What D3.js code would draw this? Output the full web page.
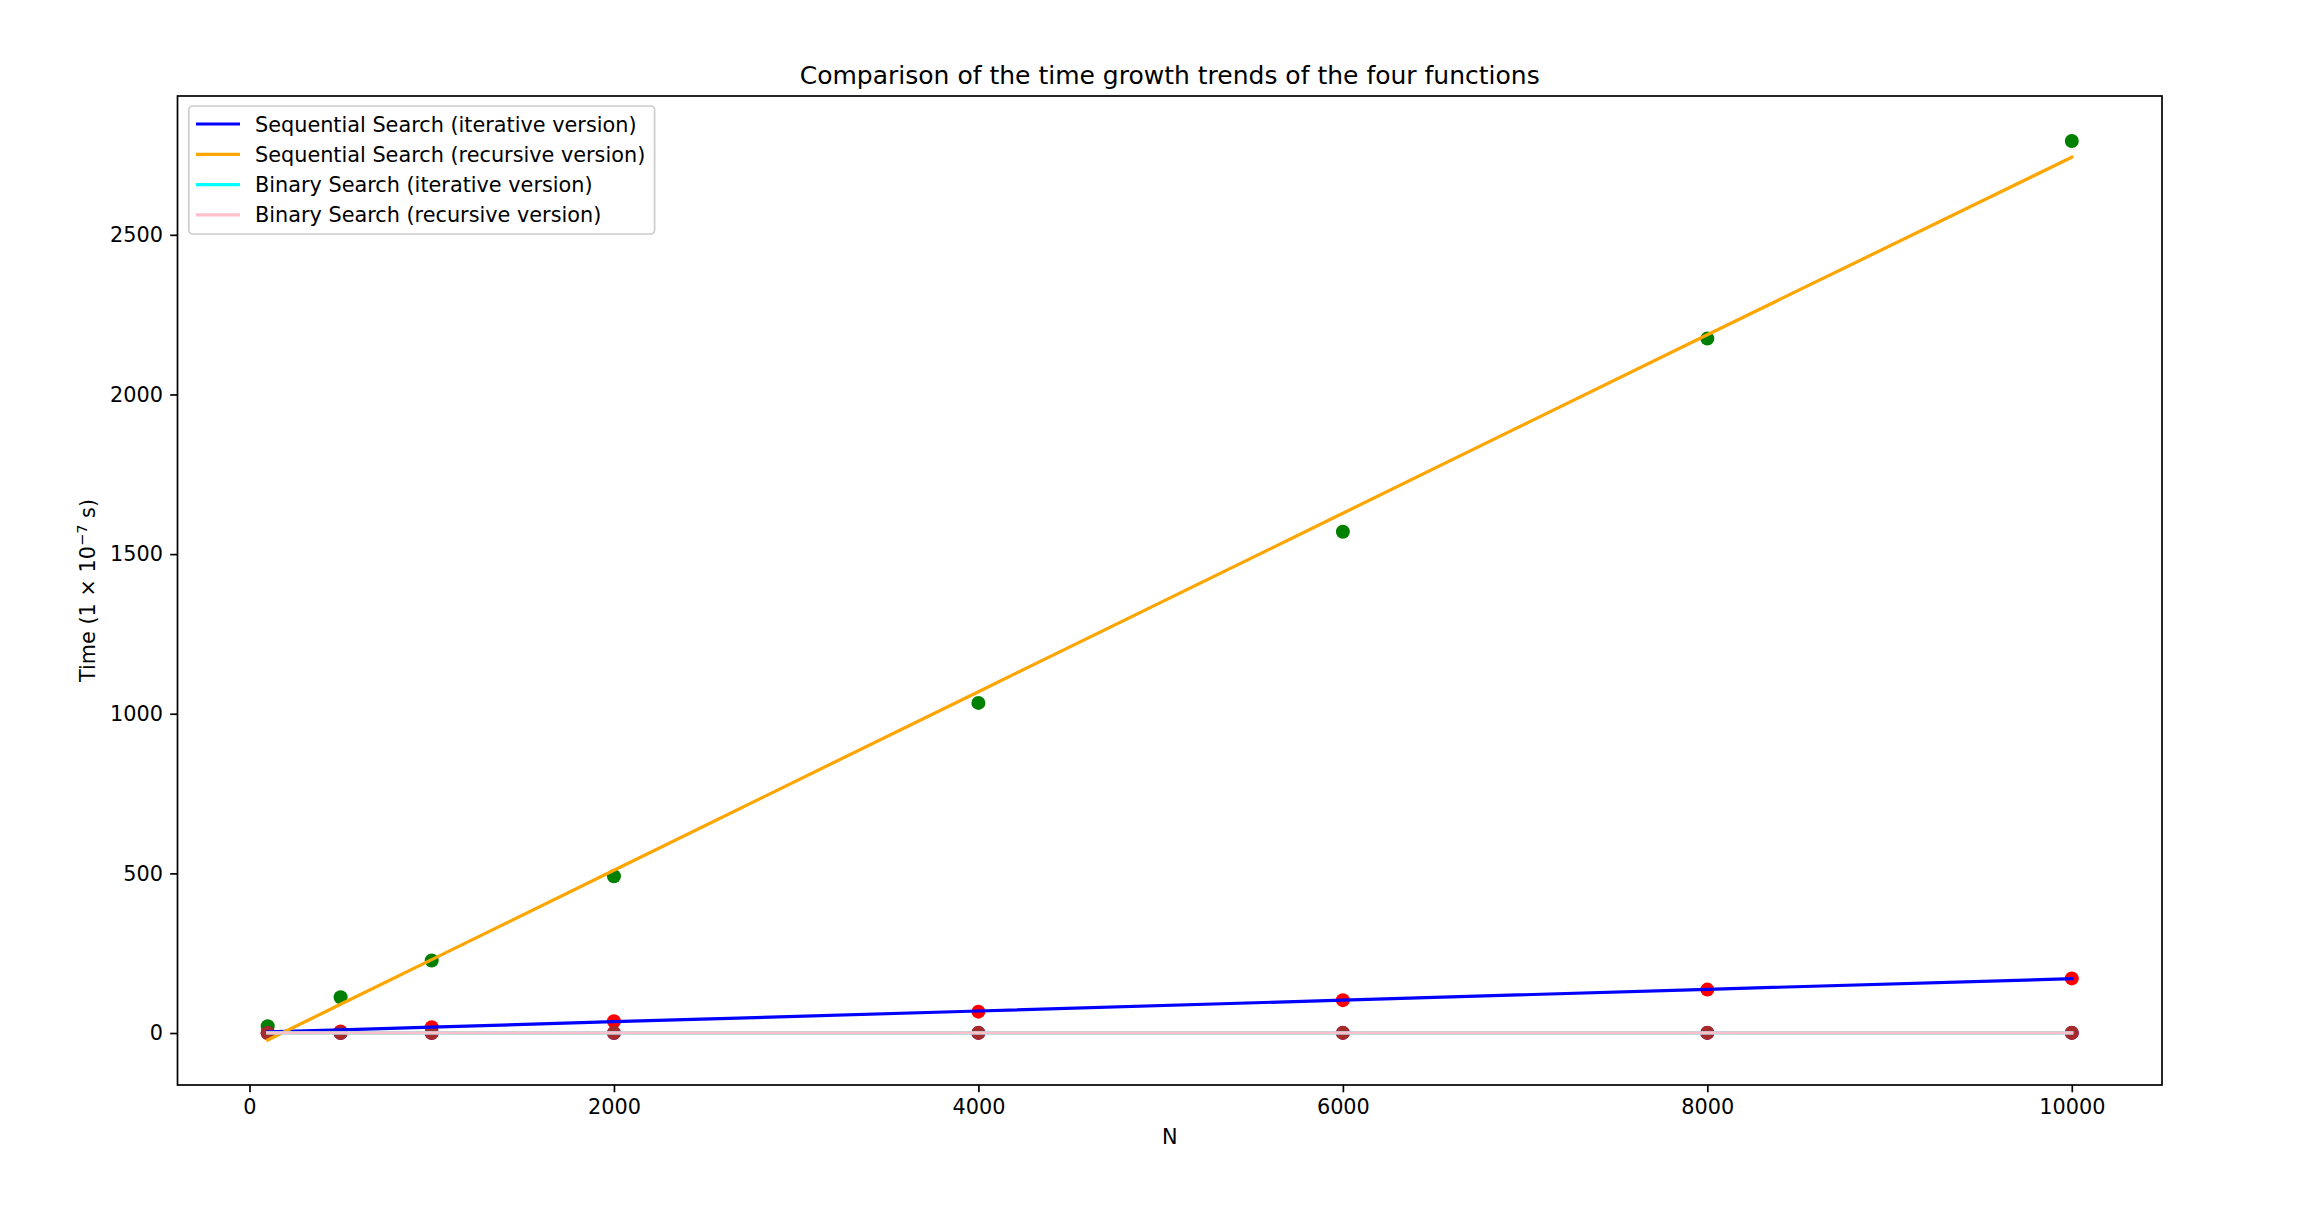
<!DOCTYPE html>
<html>
<head>
<meta charset="utf-8">
<script src="https://cdn.jsdelivr.net/npm/d3@7"></script>
<style>
  html, body { margin: 0; padding: 0; background: #fff; }
  text { font-family: "DejaVu Sans", sans-serif; fill: #000; }
</style>
</head>
<body>
<svg id="chart" width="2300" height="1215"></svg>
<script>
// ---- data ----
const N = [100, 500, 1000, 2000, 4000, 6000, 8000, 10000];
const seqIterPoints = [1, 5, 18, 37, 67, 103, 136, 171];
const seqRecPoints = [21, 112, 227, 491, 1034, 1570, 2175, 2794];
const binIterPoints = [0.2, 0.3, 0.3, 0.3, 0.4, 0.4, 0.4, 0.4];
const binRecPoints = [0.3, 0.4, 0.5, 0.5, 0.6, 0.6, 0.7, 0.7];
const seqIterLine = [3.3, 10, 18.5, 35.4, 69, 103, 137, 170];
const seqRecLine = [-22, 90, 230, 510, 1069, 1628, 2187, 2743];
const binIterLine = [0.2, 0.25, 0.3, 0.3, 0.35, 0.4, 0.4, 0.45];
const binRecLine = [0.35, 0.4, 0.45, 0.5, 0.55, 0.6, 0.65, 0.7];
const xTicks = [0, 2000, 4000, 6000, 8000, 10000];
const yTicks = [0, 500, 1000, 1500, 2000, 2500];
const legendLabels = [
  "Sequential Search (iterative version)",
  "Sequential Search (recursive version)",
  "Binary Search (iterative version)",
  "Binary Search (recursive version)"
];
const lineColors = ["blue", "orange", "cyan", "pink"];
const pointColors = ["red", "green", "purple", "brown"];

// ---- layout ----
const svg = d3.select("#chart");
const L = 177.5, R = 2162, T = 96, B = 1085;
const FS = 20.8;

const xMin = d3.min(N), xMax = d3.max(N), xPad = (xMax - xMin) * 0.05;
const x = d3.scaleLinear().domain([xMin - xPad, xMax + xPad]).range([L, R]);

const allY = [].concat(seqIterPoints, seqRecPoints, binIterPoints, binRecPoints,
                       seqIterLine, seqRecLine, binIterLine, binRecLine);
const yMin = d3.min(allY), yMax = d3.max(allY), yPad = (yMax - yMin) * 0.05;
const y = d3.scaleLinear().domain([yMin - yPad, yMax + yPad]).range([B, T]);

const plot = svg.append("g");
plot.append("clipPath").attr("id", "clip")
  .append("rect").attr("x", L).attr("y", T).attr("width", R - L).attr("height", B - T);

const marks = plot.append("g").attr("clip-path", "url(#clip)");

// scatter (drawn below lines)
const pointSets = [seqIterPoints, seqRecPoints, binIterPoints, binRecPoints];
pointSets.forEach((pts, i) => {
  marks.append("g").selectAll("circle")
    .data(pts.map((v, j) => [N[j], v]))
    .join("circle")
    .attr("cx", d => x(d[0]))
    .attr("cy", d => y(d[1]))
    .attr("r", 7)
    .attr("fill", pointColors[i]);
});

// lines
const lineSets = [seqIterLine, seqRecLine, binIterLine, binRecLine];
const lineGen = d3.line().x(d => x(d[0])).y(d => y(d[1]));
lineSets.forEach((vals, i) => {
  marks.append("path")
    .datum(vals.map((v, j) => [N[j], v]))
    .attr("d", lineGen)
    .attr("fill", "none")
    .attr("stroke", lineColors[i])
    .attr("stroke-width", 3.2)
    .attr("stroke-linecap", "square");
});

// axes
const xAxis = d3.axisBottom(x).tickValues(xTicks).tickFormat(d3.format("d"))
  .tickSize(7.3).tickPadding(7.3).tickSizeOuter(0);
const yAxis = d3.axisLeft(y).tickValues(yTicks).tickFormat(d3.format("d"))
  .tickSize(7.3).tickPadding(7.3).tickSizeOuter(0);

const gx = svg.append("g").attr("transform", `translate(0,${B})`).call(xAxis);
const gy = svg.append("g").attr("transform", `translate(${L},0)`).call(yAxis);
[gx, gy].forEach(g => {
  g.select(".domain").remove();
  g.selectAll(".tick line").attr("stroke", "#000").attr("stroke-width", 1.7);
  g.selectAll(".tick text").attr("font-size", FS).attr("font-family", "DejaVu Sans").attr("fill", "#000");
});

// frame
svg.append("rect").attr("x", L).attr("y", T).attr("width", R - L).attr("height", B - T)
  .attr("fill", "none").attr("stroke", "#000").attr("stroke-width", 1.7);

// title & labels
svg.append("text").attr("x", (L + R) / 2).attr("y", 84).attr("text-anchor", "middle")
  .attr("font-size", 25).text("Comparison of the time growth trends of the four functions");
svg.append("text").attr("x", (L + R) / 2).attr("y", 1144).attr("text-anchor", "middle")
  .attr("font-size", FS).text("N");

const yl = svg.append("text")
  .attr("transform", `translate(95,${(T + B) / 2}) rotate(-90)`)
  .attr("text-anchor", "middle").attr("font-size", FS);
yl.append("tspan").text("Time (1 × 10");
yl.append("tspan").attr("font-size", 14.6).attr("dy", -8.5).text("−7");
yl.append("tspan").attr("dy", 8.5).text(" s)");

// legend
const lg = svg.append("g");
lg.append("rect").attr("x", 188.8).attr("y", 106).attr("width", 465.8).attr("height", 128)
  .attr("rx", 4).attr("fill", "#fff").attr("fill-opacity", 0.8)
  .attr("stroke", "#cccccc").attr("stroke-width", 1.7);
legendLabels.forEach((lab, i) => {
  const cy = 124 + i * 30.3;
  lg.append("line").attr("x1", 196).attr("x2", 240).attr("y1", cy).attr("y2", cy)
    .attr("stroke", lineColors[i]).attr("stroke-width", 3.2);
  lg.append("text").attr("x", 255).attr("y", cy + 7.5).attr("font-size", FS).text(lab);
});
</script>
</body>
</html>
